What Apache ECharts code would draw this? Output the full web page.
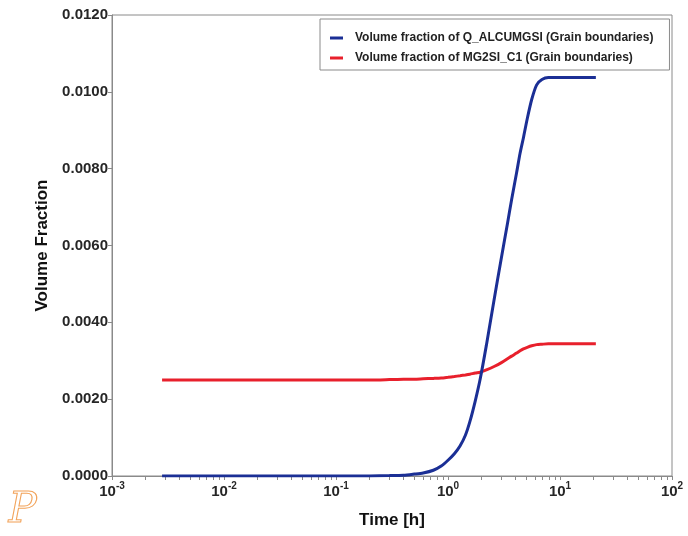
<!DOCTYPE html>
<html>
<head>
<meta charset="utf-8">
<script src="https://cdn.jsdelivr.net/npm/echarts@6/dist/echarts.min.js"></script>
<style>
  html, body { margin: 0; padding: 0; background: #fff; }
  #chart { width: 688px; height: 536px; }
</style>
</head>
<body>
<div id="chart"></div>
<script>
// Simulation time in hours (shared by both phases)
const timeHours = [0.0028, 0.01, 0.05, 0.1, 0.2, 0.3, 0.4, 0.5, 0.6, 0.74, 0.87, 1.0, 1.14, 1.28,
  1.43, 1.57, 1.75, 1.94, 2.2, 2.58, 3.0, 3.4, 3.7, 4.1, 4.4, 4.71, 5.1, 5.59, 6.19, 6.9, 7.87, 10, 15, 20.9];

// Volume fraction of Q_ALCUMGSI at grain boundaries
const qAlcumgsi = [0, 0, 0, 0, 0.000003, 0.00001, 0.00002, 0.00005, 0.00008, 0.00015, 0.00026, 0.00041,
  0.00058, 0.00078, 0.00106, 0.00142, 0.00195, 0.00253, 0.0034, 0.00459, 0.00569, 0.00658, 0.0072, 0.0079,
  0.0084, 0.0088, 0.0093, 0.0098, 0.01018, 0.01032, 0.01037, 0.01037, 0.01037, 0.01037];

// Volume fraction of MG2SI_C1 at grain boundaries
const mg2siC1 = [0.0025, 0.0025, 0.0025, 0.0025, 0.0025, 0.00251, 0.00252, 0.00252, 0.00253, 0.00254,
  0.00255, 0.00257, 0.00259, 0.00261, 0.00263, 0.00265, 0.00268, 0.0027, 0.00276, 0.00285, 0.00295,
  0.00305, 0.00312, 0.0032, 0.00326, 0.00331, 0.00335, 0.00339, 0.00342, 0.00343, 0.00344, 0.00344,
  0.00344, 0.00344];

const seriesNames = [
  'Volume fraction of Q_ALCUMGSI (Grain boundaries)',
  'Volume fraction of MG2SI_C1 (Grain boundaries)'
];

// Decade labels and the 2..9 minor positions of the log time axis
const decades = [0.001, 0.01, 0.1, 1, 10, 100];
const logTicks = [];
for (let d = 0; d < decades.length; d++) {
  logTicks.push(decades[d]);
  if (d < decades.length - 1) {
    for (let m = 2; m <= 9; m++) logTicks.push(+(decades[d] * m).toPrecision(3));
  }
}

const pairs = (ys) => timeHours.map((t, i) => [t, ys[i]]);

const chart = echarts.init(document.getElementById('chart'), null, { renderer: 'canvas' });

const axisColor = '#8a8a8a';
const labelColor = '#262626';

chart.setOption({
  animation: false,
  backgroundColor: '#ffffff',
  textStyle: { fontFamily: 'Liberation Sans, Arial, sans-serif' },
  grid: {
    left: 112, right: 16, top: 15, bottom: 60,
    show: true, borderColor: axisColor, borderWidth: 1, backgroundColor: 'transparent'
  },
  legend: {
    orient: 'vertical',
    left: 320, top: 19,
    padding: [12, 16, 5, 10],
    itemGap: 6,
    itemWidth: 13, itemHeight: 3,
    icon: 'rect',
    backgroundColor: '#fff',
    borderColor: axisColor,
    borderWidth: 1,
    borderRadius: 0,
    textStyle: {
      fontFamily: 'Liberation Sans, Arial, sans-serif',
      fontSize: 12, fontWeight: 'bold', color: '#222',
      lineHeight: 14,
      padding: [0, 0, 0, 7]
    },
    data: seriesNames
  },
  xAxis: {
    type: 'log',
    logBase: 10,
    min: 0.001, max: 100,
    name: 'Time [h]',
    nameLocation: 'middle',
    nameGap: 36,
    nameTextStyle: { fontSize: 17, fontWeight: 'bold', color: '#111' },
    axisLine: { show: true, lineStyle: { color: axisColor, width: 1 } },
    axisTick: { show: true, length: 4, inside: false, customValues: logTicks,
      lineStyle: { color: axisColor } },
    splitLine: { show: false },
    axisLabel: {
      customValues: decades,
      margin: 5,
      color: labelColor,
      fontSize: 15,
      fontWeight: 'bold',
      formatter: (v) => '10{e|' + Math.round(Math.log10(v)) + '}',
      rich: {
        e: { fontSize: 10, fontWeight: 'bold', color: labelColor, padding: [0, 0, 11, 0] }
      }
    }
  },
  yAxis: {
    type: 'value',
    min: 0, max: 0.012, interval: 0.002,
    name: 'Volume Fraction',
    nameLocation: 'middle',
    nameGap: 58,
    nameTextStyle: { fontSize: 17, fontWeight: 'bold', color: '#111' },
    axisLine: { show: true, lineStyle: { color: axisColor, width: 1 } },
    axisTick: { show: true, length: 4, inside: false, lineStyle: { color: axisColor } },
    splitLine: { show: false },
    axisLabel: {
      margin: 4,
      color: labelColor,
      fontSize: 15,
      fontWeight: 'bold',
      formatter: (v) => v.toFixed(4)
    }
  },
  series: [
    {
      name: seriesNames[0],
      type: 'line',
      data: pairs(qAlcumgsi),
      showSymbol: false,
      smooth: 0.25,
      lineStyle: { color: '#1b2f95', width: 3 },
      itemStyle: { color: '#1b2f95' },
      z: 3
    },
    {
      name: seriesNames[1],
      type: 'line',
      data: pairs(mg2siC1),
      showSymbol: false,
      smooth: 0.25,
      lineStyle: { color: '#e8202c', width: 3 },
      itemStyle: { color: '#e8202c' },
      z: 2
    }
  ],
  graphic: [
    {
      type: 'text',
      left: 8, top: 490,
      style: {
        text: 'P',
        font: 'italic 42px "DejaVu Serif", serif',
        fill: 'transparent',
        stroke: '#f2a45c',
        lineWidth: 1.1
      }
    }
  ]
});
</script>
</body>
</html>
